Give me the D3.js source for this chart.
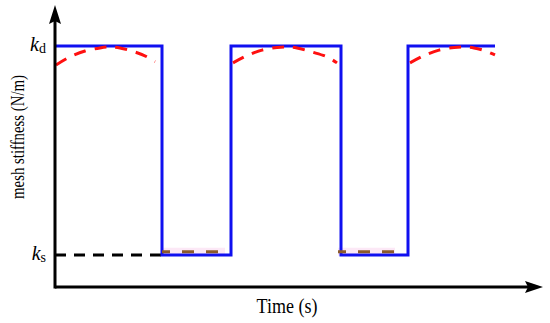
<!DOCTYPE html>
<html>
<head>
<meta charset="utf-8">
<script src="https://cdn.jsdelivr.net/npm/d3@7"></script>
<style>
  body { margin: 0; background: #fff; }
  text { font-family: "Liberation Serif", "Times New Roman", serif; fill: #000; }
</style>
</head>
<body>
<div id="chart"></div>
<script>
// stiffness levels (normalised), ks = single pair, kd = double pair
var ks = 0.133, kd = 1.0;

// rectangular mesh stiffness: switching times and levels
var stepTimes  = [0.01, 1.07, 1.76, 2.86, 3.53, 4.40];
var stepLevels = [kd,   ks,   kd,   ks,   kd,   kd];

// red dashed curves over the double-pair zones
var arcTimes = [
  [0.01, 0.15, 0.30, 0.45, 0.55, 0.65, 0.80, 0.92, 1.00],
  [1.78, 1.92, 2.07, 2.22, 2.32, 2.42, 2.57, 2.72, 2.82],
  [3.55, 3.69, 3.84, 3.99, 4.09, 4.19, 4.30, 4.40]
];
var arcValues = [
  [0.921, 0.955, 0.979, 0.992, 0.996, 0.992, 0.975, 0.955, 0.935],
  [0.930, 0.960, 0.983, 0.994, 0.996, 0.992, 0.975, 0.955, 0.930],
  [0.930, 0.960, 0.983, 0.994, 0.996, 0.992, 0.980, 0.963]
];

// brown dashed line over the single-pair zones
var lowTimes  = [[1.07, 1.70], [2.83, 3.40]];
var lowValue  = 0.146;

var yLabel = "mesh stiffness (N/m)";
var xLabel = "Time (s)";

var width = 550, height = 323;
var svg = d3.select("#chart").append("svg")
    .attr("width", width).attr("height", height);

var x = d3.scaleLinear().domain([0, 4.9]).range([55, 545]);
var y = d3.scaleLinear().domain([0, 1]).range([287, 46]);

var line = d3.line().x(function(d) { return x(d[0]); }).y(function(d) { return y(d[1]); });

// black dashed ks reference
svg.append("path")
    .attr("d", line([[0, ks], [1.07, ks]]))
    .attr("fill", "none").attr("stroke", "#000")
    .attr("stroke-width", 3).attr("stroke-dasharray", "11,8");

// faint pink halo under the brown dashes
lowTimes.forEach(function(t) {
  svg.append("path")
      .attr("d", line([[t[0], lowValue], [t[1], lowValue]]))
      .attr("fill", "none").attr("stroke", "#fce8f6")
      .attr("stroke-width", 8);
});

// square wave
var pts = [];
for (var i = 0; i < stepTimes.length; i++) {
  if (i > 0) pts.push([stepTimes[i], stepLevels[i - 1]]);
  pts.push([stepTimes[i], stepLevels[i]]);
}
svg.append("path")
    .attr("d", line(pts))
    .attr("fill", "none").attr("stroke", "#1010f0")
    .attr("stroke-width", 3).attr("stroke-linejoin", "miter");

lowTimes.forEach(function(t) {
  svg.append("path")
      .attr("d", line([[t[0], lowValue], [t[1], lowValue]]))
      .attr("fill", "none").attr("stroke", "#8b5a2b")
      .attr("stroke-width", 3).attr("stroke-dasharray", "12,12")
      .attr("stroke-dashoffset", 4);
});

// red dashed arcs
var curve = d3.line().curve(d3.curveCatmullRom)
    .x(function(d) { return x(d[0]); }).y(function(d) { return y(d[1]); });
arcTimes.forEach(function(ts, k) {
  svg.append("path")
      .attr("d", curve(ts.map(function(t, j) { return [t, arcValues[k][j]]; })))
      .attr("fill", "none").attr("stroke", "#ff1010")
      .attr("stroke-width", 3).attr("stroke-dasharray", "12,9");
});

// axes with arrows
svg.append("line").attr("x1", x(0)).attr("x2", 530)
    .attr("y1", y(0)).attr("y2", y(0))
    .attr("stroke", "#000").attr("stroke-width", 3);
svg.append("line").attr("x1", x(0)).attr("x2", x(0))
    .attr("y1", y(0) + 1.5).attr("y2", 20)
    .attr("stroke", "#000").attr("stroke-width", 3);
svg.append("path").attr("d", "M543,287 L525,281 L528,287 L525,293 Z").attr("fill", "#000");
svg.append("path").attr("d", "M55,5 L49,24 L55,21 L61,24 Z").attr("fill", "#000");

// tick labels k_d, k_s
[["d", kd], ["s", ks]].forEach(function(k) {
  var t = svg.append("text").attr("x", 46).attr("y", y(k[1]) + 5)
      .attr("text-anchor", "end").style("font-size", "20px");
  t.append("tspan").attr("font-style", "italic").text("k");
  t.append("tspan").attr("dy", 2).style("font-size", "14px").text(k[0]);
});

svg.append("text")
    .attr("transform", "translate(287,313) scale(0.9,1)")
    .attr("text-anchor", "middle").style("font-size", "20px").text(xLabel);
svg.append("text")
    .attr("transform", "translate(24,137) rotate(-90) scale(0.78,1)")
    .attr("text-anchor", "middle").style("font-size", "19px").text(yLabel);
</script>
</body>
</html>
